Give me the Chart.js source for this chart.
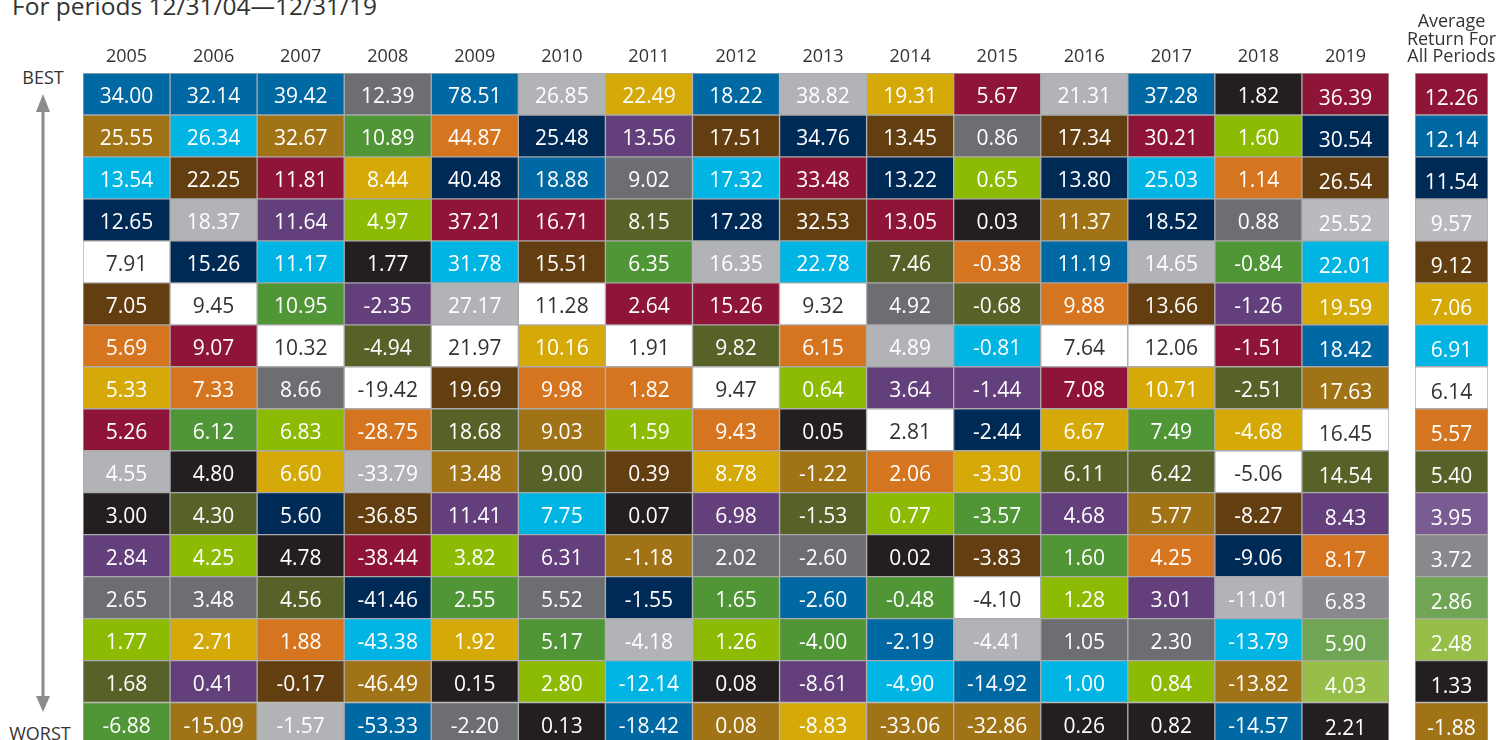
<!DOCTYPE html>
<html>
<head>
<meta charset="utf-8">
<title>Periodic table of returns</title>
<script src="https://cdn.jsdelivr.net/npm/chart.js@4.4.1/dist/chart.umd.min.js"></script>
<style>
  html, body { margin: 0; padding: 0; background: #fff; overflow: hidden; }
  body { width: 1499px; height: 740px; position: relative; font-family: 'Open Sans', sans-serif; color: #333; }
  #title { position: absolute; left: 12px; top: -9.5px; font-size: 24.5px; line-height: 30px; white-space: nowrap; }
  .side { position: absolute; font-size: 18px; line-height: 20px; transform: translateX(-50%); white-space: nowrap; }
  #best { left: 43px; top: 67px; }
  #worst { left: 40px; top: 723px; }
  #arrow { position: absolute; left: 0; top: 0; }
  #mainBox { position: absolute; left: 0; top: 0; width: 1400px; height: 760px; }
  #avgBox { position: absolute; left: 1400px; top: 0; width: 99px; height: 760px; }
</style>
</head>
<body>
<div id="title">For periods 12/31/04—12/31/19</div>
<div class="side" id="best">BEST</div>
<div class="side" id="worst">WORST</div>
<svg id="arrow" width="90" height="740">
  <line x1="43" y1="108" x2="43" y2="700" stroke="#8c8c8c" stroke-width="3"/>
  <polygon points="43,94 36,112 50,112" fill="#8c8c8c"/>
  <polygon points="43,712 36,696 50,696" fill="#8c8c8c"/>
</svg>
<div id="mainBox"><canvas id="chartMain"></canvas></div>
<div id="avgBox"><canvas id="chartAvg"></canvas></div>

<script>
// returns per calendar year, best to worst; letters say which asset class each cell is
const years = ['2005', '2006', '2007', '2008', '2009', '2010', '2011', '2012', '2013', '2014', '2015', '2016', '2017', '2018', '2019'];

const ret2005 = [34.00, 25.55, 13.54, 12.65, 7.91, 7.05, 5.69, 5.33, 5.26, 4.55, 3.00, 2.84, 2.65, 1.77, 1.68, -6.88];
const cls2005 = [...'ABCDEFGHIJKLMNOP'];
const ret2006 = [32.14, 26.34, 22.25, 18.37, 15.26, 9.45, 9.07, 7.33, 6.12, 4.80, 4.30, 4.25, 3.48, 2.71, 0.41, -15.09];
const cls2006 = [...'ACFJDEIGPKONMHLB'];
const ret2007 = [39.42, 32.67, 11.81, 11.64, 11.17, 10.95, 10.32, 8.66, 6.83, 6.60, 5.60, 4.78, 4.56, 1.88, -0.17, -1.57];
const cls2007 = [...'ABILCPEMNHDKOGFJ'];
const ret2008 = [12.39, 10.89, 8.44, 4.97, 1.77, -2.35, -4.94, -19.42, -28.75, -33.79, -36.85, -38.44, -41.46, -43.38, -46.49, -53.33];
const cls2008 = [...'MPHNKLOEGJFIDCBA'];
const ret2009 = [78.51, 44.87, 40.48, 37.21, 31.78, 27.17, 21.97, 19.69, 18.68, 13.48, 11.41, 3.82, 2.55, 1.92, 0.15, -2.20];
const cls2009 = [...'AGDICJEFOBLNPHKM'];
const ret2010 = [26.85, 25.48, 18.88, 16.71, 15.51, 11.28, 10.16, 9.98, 9.03, 9.00, 7.75, 6.31, 5.52, 5.17, 2.80, 0.13];
const cls2010 = [...'JDAIFEHGBOCLMPNK'];
const ret2011 = [22.49, 13.56, 9.02, 8.15, 6.35, 2.64, 1.91, 1.82, 1.59, 0.39, 0.07, -1.18, -1.55, -4.18, -12.14, -18.42];
const cls2011 = [...'HLMOPIEGNFKBDJCA'];
const ret2012 = [18.22, 17.51, 17.32, 17.28, 16.35, 15.26, 9.82, 9.47, 9.43, 8.78, 6.98, 2.02, 1.65, 1.26, 0.08, 0.08];
const cls2012 = [...'AFCDJIOEGHLMPNKB'];
const ret2013 = [38.82, 34.76, 33.48, 32.53, 22.78, 9.32, 6.15, 0.64, 0.05, -1.22, -1.53, -2.60, -2.60, -4.00, -8.61, -8.83];
const cls2013 = [...'JDIFCEGNKBOMAPLH'];
const ret2014 = [19.31, 13.45, 13.22, 13.05, 7.46, 4.92, 4.89, 3.64, 2.81, 2.06, 0.77, 0.02, -0.48, -2.19, -4.90, -33.06];
const cls2014 = [...'HFDIOMJLEGNKPACB'];
const ret2015 = [5.67, 0.86, 0.65, 0.03, -0.38, -0.68, -0.81, -1.44, -2.44, -3.30, -3.57, -3.83, -4.10, -4.41, -14.92, -32.86];
const cls2015 = [...'IMNKGOCLDHPFEJAB'];
const ret2016 = [21.31, 17.34, 13.80, 11.37, 11.19, 9.88, 7.64, 7.08, 6.67, 6.11, 4.68, 1.60, 1.28, 1.05, 1.00, 0.26];
const cls2016 = [...'JFDBAGEIHOLPNMCK'];
const ret2017 = [37.28, 30.21, 25.03, 18.52, 14.65, 13.66, 12.06, 10.71, 7.49, 6.42, 5.77, 4.25, 3.01, 2.30, 0.84, 0.82];
const cls2017 = [...'AICDJFEHPOBGLMNK'];
const ret2018 = [1.82, 1.60, 1.14, 0.88, -0.84, -1.26, -1.51, -2.51, -4.68, -5.06, -8.27, -9.06, -11.01, -13.79, -13.82, -14.57];
const cls2018 = [...'KNGMPLIOHEFDJCBA'];
const ret2019 = [36.39, 30.54, 26.54, 25.52, 22.01, 19.59, 18.42, 17.63, 16.45, 14.54, 8.43, 8.17, 6.83, 5.90, 4.03, 2.21];
const cls2019 = [...'IDFJCHABEOLGMPNK'];

const avgLabel = ['Average', 'Return For', 'All Periods'];
const retAvg = [12.26, 12.14, 11.54, 9.57, 9.12, 7.06, 6.91, 6.14, 5.57, 5.40, 3.95, 3.72, 2.86, 2.48, 1.33, -1.88];
const clsAvg = [...'IADJFHCEGOLMPNKB'];

// one colour per asset class
const palette = {
  A: '#0068a2', B: '#a07317', C: '#00b4e4', D: '#002a56',
  E: '#ffffff', F: '#633e11', G: '#d6751f', H: '#d5aa08',
  I: '#8f1538', J: '#b1b3b6', K: '#231f20', L: '#633f7c',
  M: '#6d6e71', N: '#8dbb04', O: '#566227', P: '#519636'
};
// the last two columns are printed a bit lighter for some classes
const lightShades = { J: '#b9babd', M: '#88898c', N: '#97be48', P: '#6fa553' };
const lightAvgOnly = { L: '#7a5c93' };

const mainRets = [ret2005, ret2006, ret2007, ret2008, ret2009, ret2010, ret2011, ret2012, ret2013, ret2014, ret2015, ret2016, ret2017, ret2018, ret2019];
const mainCls = [cls2005, cls2006, cls2007, cls2008, cls2009, cls2010, cls2011, cls2012, cls2013, cls2014, cls2015, cls2016, cls2017, cls2018, cls2019];

Chart.defaults.font.family = "'Open Sans', sans-serif";
Chart.defaults.color = '#333';

function cellColor(key, light, avg) {
  if (avg && lightAvgOnly[key]) return lightAvgOnly[key];
  if (light && lightShades[key]) return lightShades[key];
  return palette[key];
}

// one dataset per rank row, stacked so row 0 sits at the top
function buildRows(rets, cls, lightCols, avg) {
  const rows = [];
  for (let r = 0; r < 16; r++) {
    rows.push({
      data: rets.map(() => 1),
      values: rets.map(col => col[r]),
      keys: cls.map(col => col[r]),
      backgroundColor: cls.map((col, j) => cellColor(col[r], lightCols[j], avg))
    });
  }
  return rows;
}

const cellLabels = {
  id: 'cellLabels',
  afterDatasetsDraw(chart, args, opts) {
    const ctx = chart.ctx;
    ctx.save();
    ctx.font = '21px "Open Sans"';
    ctx.textAlign = 'center';
    ctx.textBaseline = 'middle';
    chart.data.datasets.forEach((ds, i) => {
      chart.getDatasetMeta(i).data.forEach((bar, j) => {
        const p = bar.getProps(['x', 'y', 'base'], true);
        ctx.fillStyle = ds.keys[j] === 'E' ? '#333' : '#fff';
        const drop = opts.drop ? opts.drop[j] : 0;
        ctx.fillText(ds.values[j].toFixed(2), p.x, (p.y + p.base) / 2 + 3 + drop);
      });
    });
    ctx.restore();
  }
};

function gridOptions(pad, drop) {
  return {
    responsive: true,
    maintainAspectRatio: false,
    animation: false,
    layout: { padding: pad },
    datasets: {
      bar: { categoryPercentage: 1, barPercentage: 1, borderWidth: 1, borderColor: '#aaaaaa', borderSkipped: false }
    },
    plugins: {
      legend: { display: false },
      tooltip: { enabled: false },
      cellLabels: { drop: drop }
    },
    scales: {
      x: {
        stacked: true,
        position: 'top',
        grid: { display: false, drawTicks: false },
        border: { display: false },
        ticks: { color: '#333', font: { size: 18, lineHeight: 0.972 }, padding: 7, maxRotation: 0, minRotation: 0, autoSkip: false },
        afterFit: s => {
          s.height = 73;
          // keep wide header text from squeezing the cells
          s.paddingLeft = 0;
          s.paddingRight = 0;
        }
      },
      y: { stacked: true, display: false, reverse: true, min: 0, max: 16 }
    }
  };
}

const mainLight = years.map(y => y === '2019');
new Chart(document.getElementById('chartMain'), {
  type: 'bar',
  data: { labels: years, datasets: buildRows(mainRets, mainCls, mainLight, false) },
  options: gridOptions({ left: 83, right: 11, top: 0, bottom: 15.5 }, years.map(y => y === '2019' ? 2.5 : 0)),
  plugins: [cellLabels]
});

new Chart(document.getElementById('chartAvg'), {
  type: 'bar',
  data: { labels: [avgLabel], datasets: buildRows([retAvg], [clsAvg], [true], true) },
  options: gridOptions({ left: 15, right: 11, top: 0, bottom: 15.5 }, [2.5]),
  plugins: [cellLabels]
});
</script>
</body>
</html>
